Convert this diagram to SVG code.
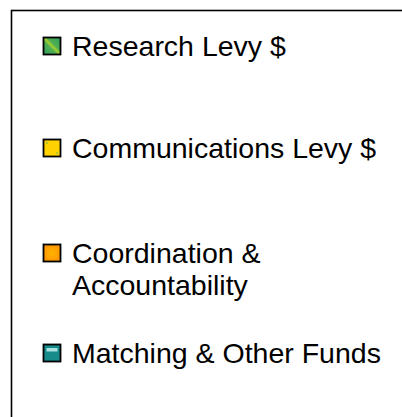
<svg xmlns="http://www.w3.org/2000/svg" width="402" height="417" viewBox="0 0 402 417">
<style>
.lbl{font-family:"Liberation Sans",Arial,sans-serif;font-size:28.5px;fill:#000}
.sw{stroke:#000;stroke-width:1.8}
</style>
<defs>
<linearGradient id="gGreen" x1="1" y1="0" x2="0" y2="1">
<stop offset="0" stop-color="#2f9e62"/>
<stop offset="0.4" stop-color="#4fb052"/>
<stop offset="0.5" stop-color="#a4cf2e"/>
<stop offset="0.6" stop-color="#4fb052"/>
<stop offset="1" stop-color="#2f9e62"/>
</linearGradient>
<radialGradient id="gOrange" cx="0.5" cy="0.5" r="0.6">
<stop offset="0" stop-color="#ffb300"/>
<stop offset="1" stop-color="#ff9400"/>
</radialGradient>
</defs>
<rect x="11.5" y="10.5" width="420" height="430" fill="#fff" stroke="#000" stroke-width="1.6"/>
<g id="item-research">
<rect class="sw" x="43.5" y="37.5" width="17" height="17" fill="url(#gGreen)"/>
<text class="lbl" x="72" y="56">Research Levy $</text>
</g>
<g id="item-communications">
<rect class="sw" x="43.5" y="139.5" width="17" height="17" fill="#ffd200"/>
<circle cx="47" cy="143" r="1.3" fill="#b5c928"/>
<circle cx="57" cy="153" r="1.3" fill="#b5c928"/>
<text class="lbl" x="72" y="158">Communications Levy $</text>
</g>
<g id="item-coordination">
<rect class="sw" x="43.5" y="244.5" width="17" height="17" fill="url(#gOrange)"/>
<text class="lbl" x="72" y="263">Coordination &amp;</text>
<text class="lbl" x="72" y="295">Accountability</text>
</g>
<g id="item-matching">
<rect class="sw" x="43.5" y="344.5" width="17" height="17" fill="#178a8a"/>
<rect x="46.5" y="348" width="11" height="3.5" fill="#a8e0e0"/>
<text class="lbl" x="72" y="363">Matching &amp; Other Funds</text>
</g>
</svg>
